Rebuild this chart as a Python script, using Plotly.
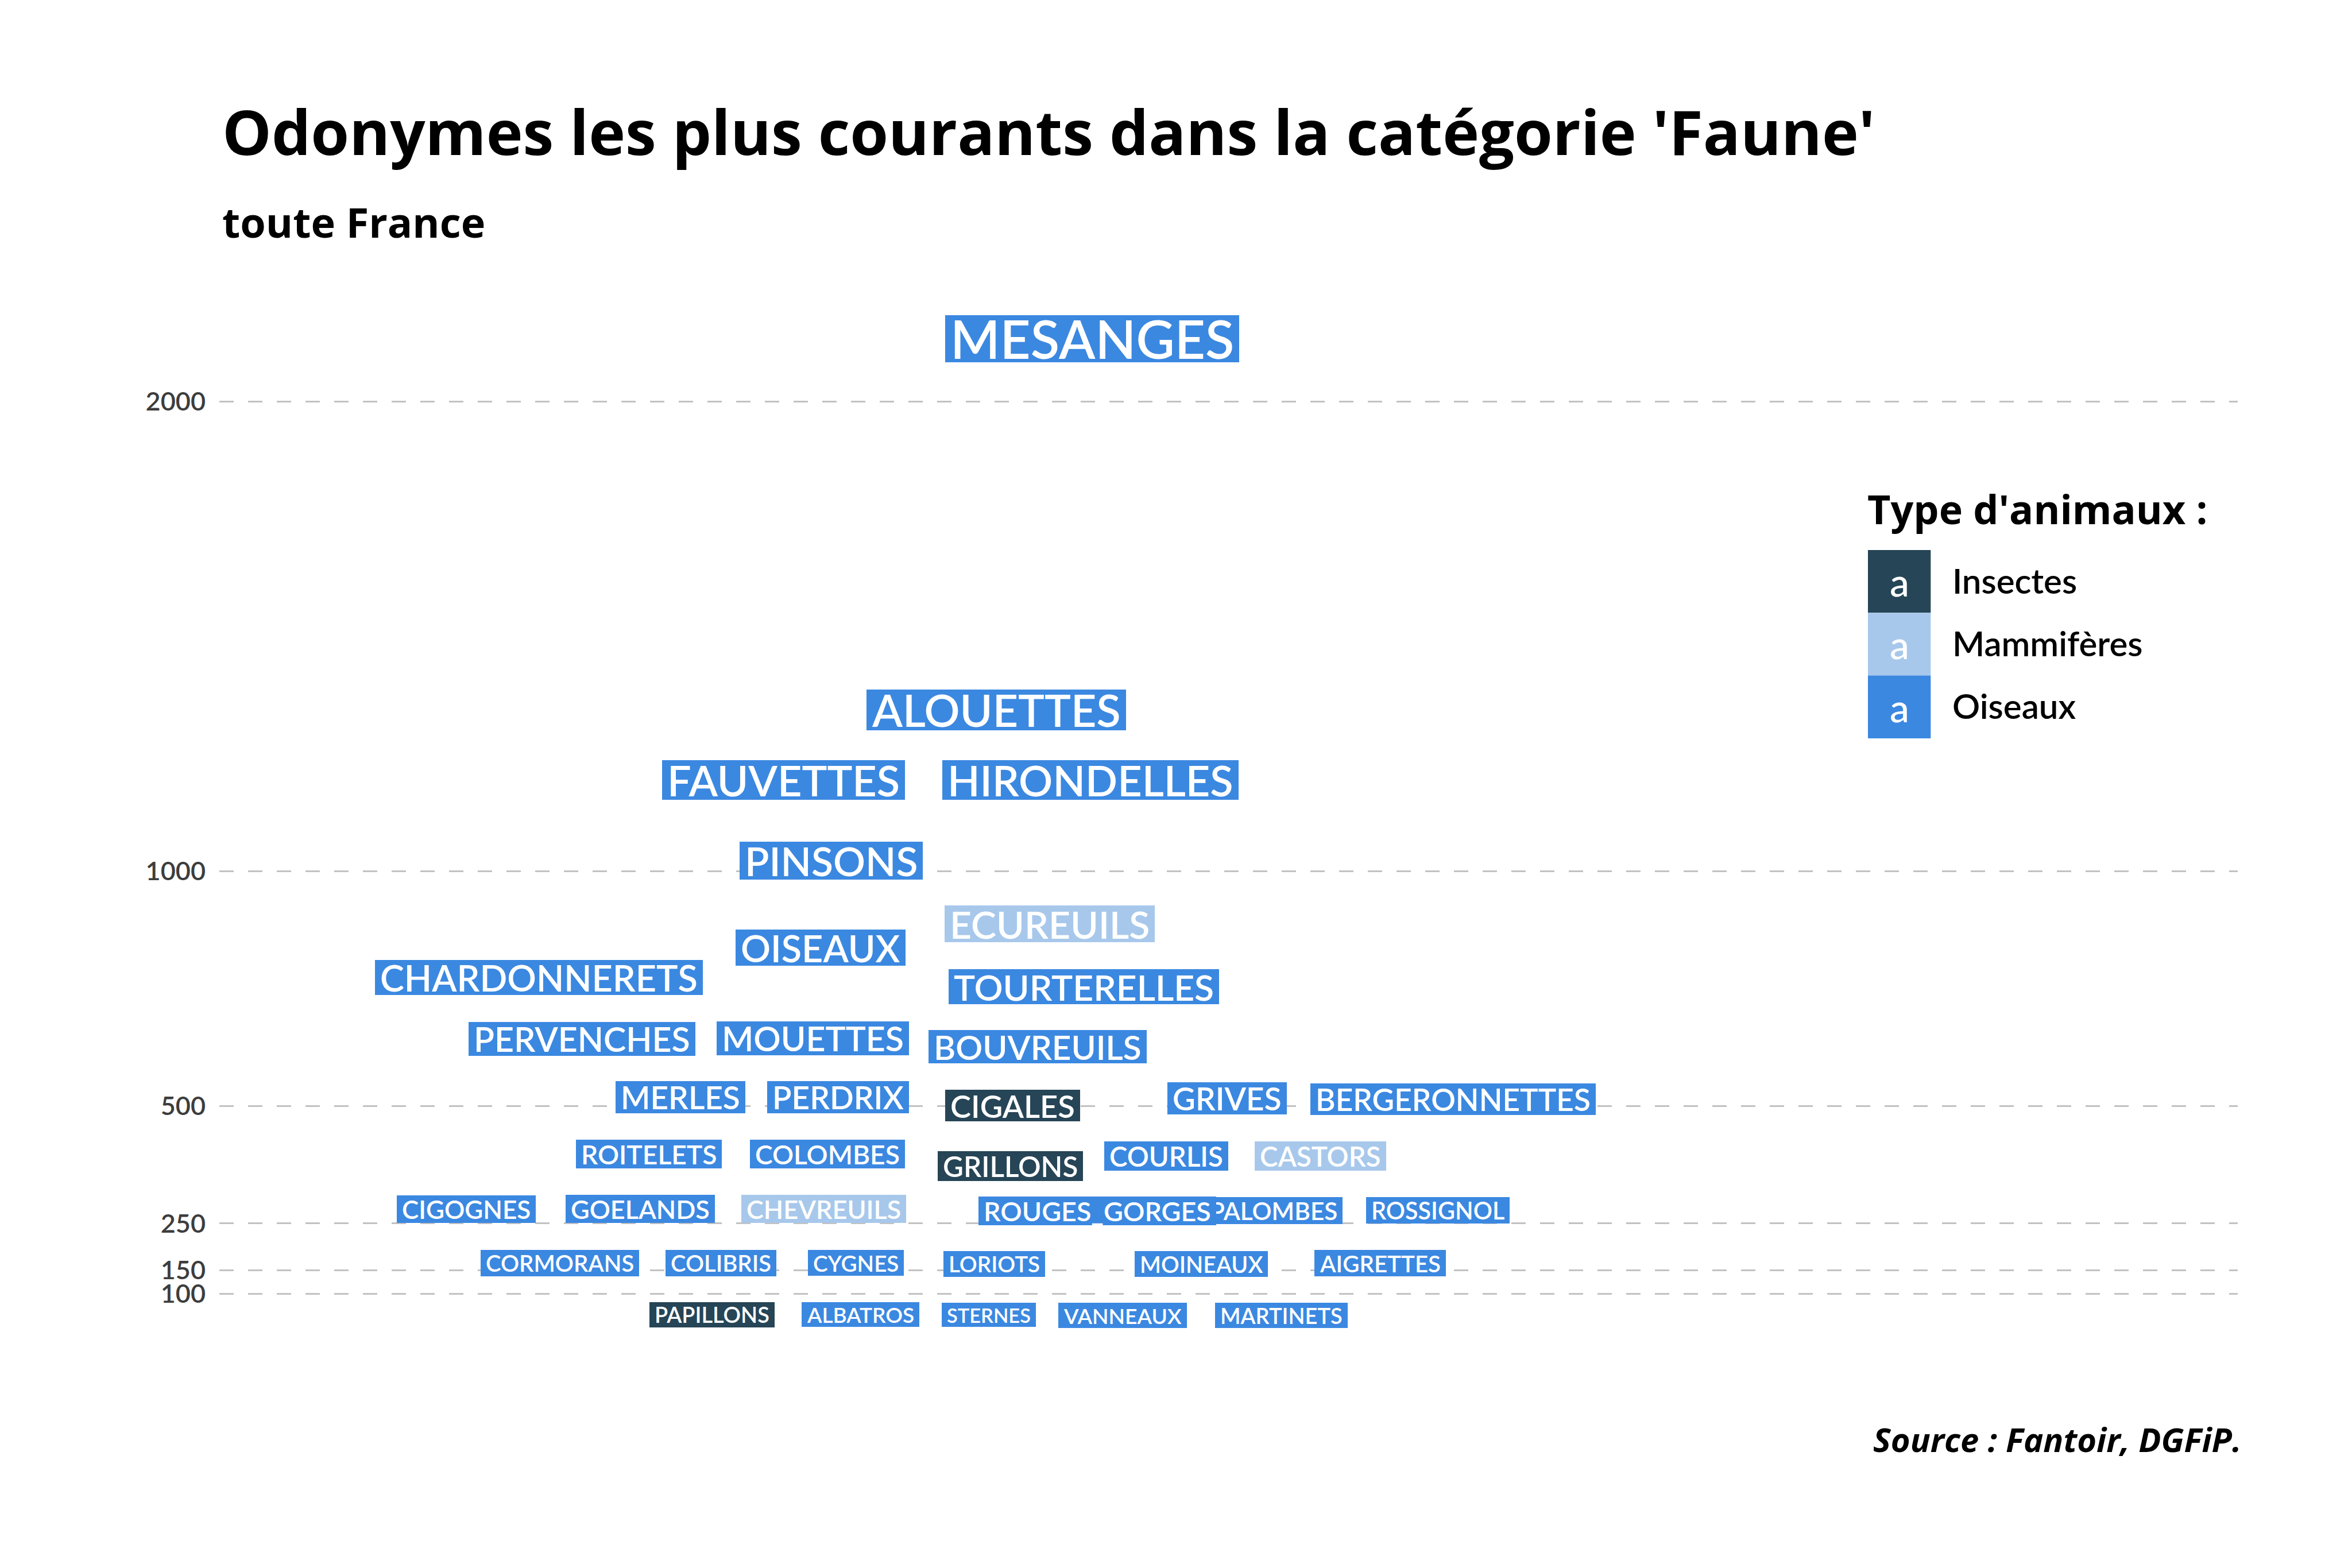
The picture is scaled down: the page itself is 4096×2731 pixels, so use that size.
import plotly.graph_objects as go

# ---------------- data ----------------
noms = ["MESANGES", "ALOUETTES", "FAUVETTES", "HIRONDELLES", "PINSONS", "ECUREUILS",
        "OISEAUX", "CHARDONNERETS", "TOURTERELLES", "PERVENCHES", "MOUETTES", "BOUVREUILS",
        "MERLES", "PERDRIX", "CIGALES", "GRIVES", "BERGERONNETTES",
        "ROITELETS", "COLOMBES", "GRILLONS", "COURLIS", "CASTORS",
        "CIGOGNES", "GOELANDS", "CHEVREUILS", "PALOMBES", "ROUGES_GORGES", "ROSSIGNOL",
        "CORMORANS", "COLIBRIS", "CYGNES", "LORIOTS", "MOINEAUX", "AIGRETTES",
        "PAPILLONS", "ALBATROS", "STERNES", "VANNEAUX", "MARTINETS"]
types = ["Oiseaux", "Oiseaux", "Oiseaux", "Oiseaux", "Oiseaux", "Mammifères",
         "Oiseaux", "Oiseaux", "Oiseaux", "Oiseaux", "Oiseaux", "Oiseaux",
         "Oiseaux", "Oiseaux", "Insectes", "Oiseaux", "Oiseaux",
         "Oiseaux", "Oiseaux", "Insectes", "Oiseaux", "Mammifères",
         "Oiseaux", "Oiseaux", "Mammifères", "Oiseaux", "Oiseaux", "Oiseaux",
         "Oiseaux", "Oiseaux", "Oiseaux", "Oiseaux", "Oiseaux", "Oiseaux",
         "Insectes", "Oiseaux", "Oiseaux", "Oiseaux", "Oiseaux"]
# horizontal position after label repulsion (arbitrary units 0-100)
x_rep = [43.25, 38.48, 27.94, 43.17, 30.32, 41.14,
         29.78, 15.84, 42.82, 17.97, 29.39, 40.53,
         22.84, 30.64, 39.30, 49.93, 61.11,
         21.28, 30.12, 39.19, 46.90, 54.55,
         12.24, 20.84, 29.94, 52.22, 43.50, 60.36,
         16.86, 24.84, 31.53, 38.40, 48.64, 57.50,
         24.41, 31.77, 38.13, 44.75, 52.61]
# vertical position of each label on the count axis
y_rep = [2134, 1344, 1194, 1194, 1022, 888,
         837, 774, 754, 643, 644, 626,
         519, 519, 501, 516, 515,
         398, 398, 372, 394, 394,
         281, 281, 281, 278, 277, 278,
         166, 166, 166, 164, 164, 165,
         56, 56, 55, 54, 54]
# number of streets (mapped to label size)
nb_voies = [2134, 1344, 1194, 1194, 1022, 888,
            837, 774, 754, 643, 644, 626,
            519, 519, 501, 516, 470,
            300, 300, 372, 326, 326,
            255, 274, 274, 224, 310, 204,
            181, 181, 158, 158, 172, 185,
            149, 135, 100, 138, 149]

y_ticks = [100, 150, 250, 500, 1000, 2000]
categories = ["Insectes", "Mammifères", "Oiseaux"]

titre = "Odonymes les plus courants dans la catégorie 'Faune'"
sous_titre = "toute France"
source = "Source : Fantoir, DGFiP."
titre_legende = "Type d'animaux :"

# ---------------- styles ----------------
couleurs = {"Insectes": "#264556", "Mammifères": "#a7c8eb", "Oiseaux": "#3b88e1"}
FONT = "Lato"
FONT_T = "Open Sans"
CAP = 0.7165          # cap-height / em for Lato
PAD = 9               # label padding (px)
WIDEN = 1.04          # glyph size factor

W, H = 4096, 2731
L, R, T, B = 382, 199, 420, 281
PW, PH = W - L - R, H - T - B
Y_RANGE = [-140.1, 2341.7]


def px_x(px):
    return (px - L) / PW


def px_y(py):
    return (H - B - py) / PH


def taille(n):
    # area-like size scale: font size grows with sqrt(count)
    return 17.68 + 1.5414 * n ** 0.5


fig = go.Figure()
# invisible trace to set up axes
fig.add_trace(go.Scatter(x=[0, 100], y=[0, 0], mode="markers",
                         marker=dict(opacity=0), hoverinfo="skip", showlegend=False))

annotations = []
for nom, typ, x, y, n in zip(noms, types, x_rep, y_rep, nb_voies):
    f = taille(n)
    fs = f * WIDEN
    # label box
    annotations.append(dict(
        x=x, y=y, xref="x", yref="y", text=nom, showarrow=False,
        xanchor="center", yanchor="middle",
        font=dict(family=FONT, size=fs, color="rgba(0,0,0,0)", weight=600),
        bgcolor=couleurs[typ], borderpad=PAD, borderwidth=0,
        height=CAP * f, valign="middle", align="center"))
    # label text
    annotations.append(dict(
        x=x, y=y, xref="x", yref="y", text=nom, showarrow=False,
        xanchor="center", yanchor="middle",
        font=dict(family=FONT, size=fs, color="white", weight=600),
        borderpad=0, borderwidth=0))

# title, subtitle, caption
annotations.append(dict(x=px_x(385), y=px_y(228.6), xref="paper", yref="paper",
                        text=titre, showarrow=False, xanchor="left", yanchor="middle",
                        font=dict(family=FONT_T, size=108, color="black", weight=700)))
annotations.append(dict(x=px_x(385), y=px_y(386), xref="paper", yref="paper",
                        text=sous_titre, showarrow=False, xanchor="left", yanchor="middle",
                        font=dict(family=FONT_T, size=72, color="black", weight=700)))
annotations.append(dict(x=px_x(3906), y=px_y(2506), xref="paper", yref="paper",
                        text=source, showarrow=False, xanchor="right", yanchor="middle",
                        font=dict(family=FONT_T, size=58, color="black", weight=700,
                                  style="italic")))

# legend
annotations.append(dict(x=px_x(3250), y=px_y(885.8), xref="paper", yref="paper",
                        text=titre_legende, showarrow=False, xanchor="left", yanchor="middle",
                        font=dict(family=FONT_T, size=70, color="black", weight=700)))
shapes = []
key_top = 958
key_size = 109.3
for i, cat in enumerate(categories):
    y0 = key_top + i * key_size
    y1 = y0 + key_size
    shapes.append(dict(type="rect", xref="paper", yref="paper",
                       x0=px_x(3253), x1=px_x(3253 + key_size), y0=px_y(y1), y1=px_y(y0),
                       fillcolor=couleurs[cat], line=dict(width=0), layer="above"))
    yc = (y0 + y1) / 2
    annotations.append(dict(x=px_x(3253 + key_size / 2), y=px_y(yc), xref="paper", yref="paper",
                            text="a", showarrow=False, xanchor="center", yanchor="middle",
                            font=dict(family=FONT, size=68, color="white", weight=500)))
    annotations.append(dict(x=px_x(3398), y=px_y(yc - 2), xref="paper", yref="paper",
                            text=cat, showarrow=False, xanchor="left", yanchor="middle",
                            font=dict(family=FONT, size=60, color="black", weight=600)))

fig.update_layout(
    width=W, height=H,
    margin=dict(l=L, r=R, t=T, b=B, pad=0),
    paper_bgcolor="white", plot_bgcolor="white",
    showlegend=False,
    annotations=annotations, shapes=shapes,
    xaxis=dict(range=[0, 100], showgrid=False, zeroline=False, showticklabels=False,
               showline=False, ticks=""),
    yaxis=dict(range=Y_RANGE, tickvals=y_ticks, ticktext=[str(v) for v in y_ticks],
               showgrid=True, gridcolor="#c2c2c2", gridwidth=2.5, griddash="25px,25px",
               zeroline=False, showline=False, ticks="outside", ticklen=14,
               tickcolor="rgba(0,0,0,0)",
               tickfont=dict(family=FONT, size=45, color="#3d3d3d", weight=600)),
)

fig.write_html("out.html")
